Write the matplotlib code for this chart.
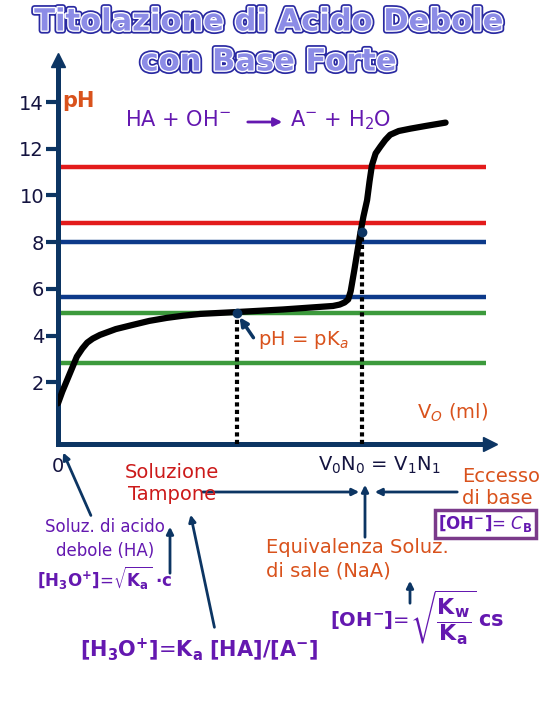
import matplotlib
matplotlib.use("Agg")
import matplotlib.pyplot as plt
import matplotlib.patheffects as pe

# colours
navy = "#0c3563"
purple = "#6418b0"
orange = "#d9521c"
red_txt = "#cc1a1a"

# titration curve (volume, pH)
vol = [0, 0.7, 1.5, 2.3, 3.1, 4.0, 4.8, 5.7, 6.9, 9.5, 12.3, 15.0, 17.9, 20.5, 23.4, 29.4, 37.0,
       45.2, 46.3, 47.1, 47.7, 48.1, 48.7, 49.2, 49.7, 50.2, 50.8, 51.2, 51.6, 52.2, 53.0, 53.8,
       54.6, 56.0, 57.9, 60.5, 63.7]
ph = [1.1, 1.6, 2.1, 2.6, 3.1, 3.45, 3.7, 3.87, 4.03, 4.28, 4.46, 4.63, 4.76, 4.85, 4.93, 5.01, 5.12,
      5.27, 5.33, 5.42, 5.55, 5.9, 6.8, 7.6, 8.4, 9.1, 9.8, 10.6, 11.3, 11.8, 12.1, 12.38,
      12.6, 12.76, 12.86, 12.98, 13.12]

# indicator ranges (horizontal bands)
band_levels = [11.24, 8.83, 8.0, 5.66, 4.97, 2.83]
band_colors = ["#e31b1b", "#e31b1b", "#0d3a8a", "#0d3a8a", "#3c9a3c", "#3c9a3c"]

# key points: half equivalence and equivalence
key_vol = [29.4, 50.0]
key_ph = [4.97, 8.44]

yticks = [2, 4, 6, 8, 10, 12, 14]

fig = plt.figure(figsize=(5.4, 7.2), dpi=100)
plt.rcParams['font.family'] = ['DejaVu Sans']
plt.rcParams['mathtext.fontset'] = 'dejavusans'


def px(x, y):
    return x / 540, 1 - y / 720


# main axes, left spine at x=58px, bottom spine at y=444px
ax = fig.add_axes([58 / 540, 1 - 444 / 720, (490 - 58) / 540, (444 - 60) / 720])
ax.set_xlim(0, 71)
ax.set_ylim(-0.64, 15.8)
for s in ["top", "right"]:
    ax.spines[s].set_visible(False)
for s in ["left", "bottom"]:
    ax.spines[s].set_color(navy)
    ax.spines[s].set_linewidth(3.6)
ax.set_xticks([])
ax.set_yticks(yticks)
ax.set_yticklabels([str(t) for t in yticks], fontsize=14, color="#141440")
ax.tick_params(axis="y", length=9, width=3, color=navy, pad=1)
ax.patch.set_alpha(0)

# arrow heads of the axes
ax.plot([0], [15.8], marker="^", ms=10, color=navy, clip_on=False)
ax.plot([71], [-0.64], marker=">", ms=10, color=navy, clip_on=False)

for lev, c in zip(band_levels, band_colors):
    ax.plot([0, 70.4], [lev, lev], color=c, lw=3.2, solid_capstyle="butt")

ax.plot(vol, ph, color="black", lw=4.5, solid_capstyle="round", solid_joinstyle="round", zorder=5)

for v, p in zip(key_vol, key_ph):
    ax.plot([v, v], [-0.64, p], color="black", lw=3, ls=(0, (1, 0.8)), zorder=4)
ax.plot(key_vol, key_ph, "o", color=navy, ms=6, zorder=6)

# title with outlined letters
title_fx = [pe.Stroke(linewidth=4.5, foreground="#2a2aa2"),
            pe.Stroke(linewidth=2, foreground="white"),
            pe.Normal()]
for txt, y in [("Titolazione di Acido Debole", 22), ("con Base Forte", 62)]:
    fig.text(*px(268, y), txt, ha="center", va="center", fontsize=22,
             fontweight="heavy", color="#8c8ce6", path_effects=title_fx)

fig.text(*px(62, 101), "pH", color=orange, fontsize=15, fontweight="bold", va="center")
fig.text(*px(125, 120), r"HA + OH$^{-}$", color=purple, fontsize=15, va="center")
ax.annotate("", xy=px(285, 122), xytext=px(245, 122), xycoords="figure fraction",
            arrowprops=dict(arrowstyle="-|>", color=purple, lw=2, mutation_scale=12))
fig.text(*px(290, 120), r"A$^{-}$ + H$_2$O", color=purple, fontsize=15, va="center")

fig.text(*px(258, 340), r"pH = pK$_a$", color=orange, fontsize=14, va="center")
ax.annotate("", xy=px(238, 315), xytext=px(255, 340), xycoords="figure fraction",
            arrowprops=dict(arrowstyle="-|>", color=navy, lw=2.5, mutation_scale=12))
fig.text(*px(417, 413), r"V$_O$ (ml)", color=orange, fontsize=14, va="center")

fig.text(*px(52, 466), "0", color="#141440", fontsize=14, va="center")
fig.text(*px(318, 465), r"V$_0$N$_0$ = V$_1$N$_1$", color="#141440", fontsize=14, va="center")

fig.text(*px(172, 483), "Soluzione\nTampone", color=red_txt, fontsize=14, ha="center",
         va="center", linespacing=1.2)
fig.text(*px(462, 487), "Eccesso\ndi base", color=orange, fontsize=14, va="center",
         linespacing=1.2)
fig.text(*px(266, 559), "Equivalenza Soluz.\ndi sale (NaA)", color=orange, fontsize=14,
         va="center", linespacing=1.3)

fig.text(*px(105, 527), "Soluz. di acido", color=purple, fontsize=12, ha="center", va="center")
fig.text(*px(105, 551), "debole (HA)", color=purple, fontsize=12, ha="center", va="center")
fig.text(*px(37, 578), r"$\mathbf{[H_3O^{+}]}$=$\sqrt{\mathbf{K_a}}$ $\mathbf{\cdot c}$",
         color=purple, fontsize=12, va="center")
fig.text(*px(80, 650), r"$\mathbf{[H_3O^{+}]}$=$\mathbf{K_a}$ $\mathbf{[HA]/[A^{-}]}$",
         color=purple, fontsize=15, va="center")
fig.text(*px(438, 524), r"$\mathbf{[OH^{-}]}$= $\mathbf{\mathit{C}_B}$", color=purple, fontsize=12,
         va="center", bbox=dict(boxstyle="square,pad=0.2", fc="white", ec="#7a3a8a", lw=2.5))
fig.text(*px(330, 620), r"$\mathbf{[OH^{-}]}$=", color=purple, fontsize=14, va="center")
fig.text(*px(410, 618), r"$\sqrt{\dfrac{\mathbf{K_w}}{\mathbf{K_a}}}$",
         color=purple, fontsize=16, va="center")
fig.text(*px(478, 620), r"$\mathbf{cs}$", color=purple, fontsize=15, va="center")

# annotation arrows
arrows = [((92, 518), (62, 450)), ((170, 576), (170, 524)), ((215, 630), (190, 512)),
          ((200, 492), (362, 492)), ((460, 492), (372, 492)), ((365, 540), (365, 482)),
          ((410, 606), (410, 578))]
for (x0, y0), (x1, y1) in arrows:
    ax.annotate("", xy=px(x1, y1), xytext=px(x0, y0), xycoords="figure fraction",
                arrowprops=dict(arrowstyle="-|>", color=navy, lw=2, mutation_scale=10))

fig.savefig("out.png", dpi=100)
